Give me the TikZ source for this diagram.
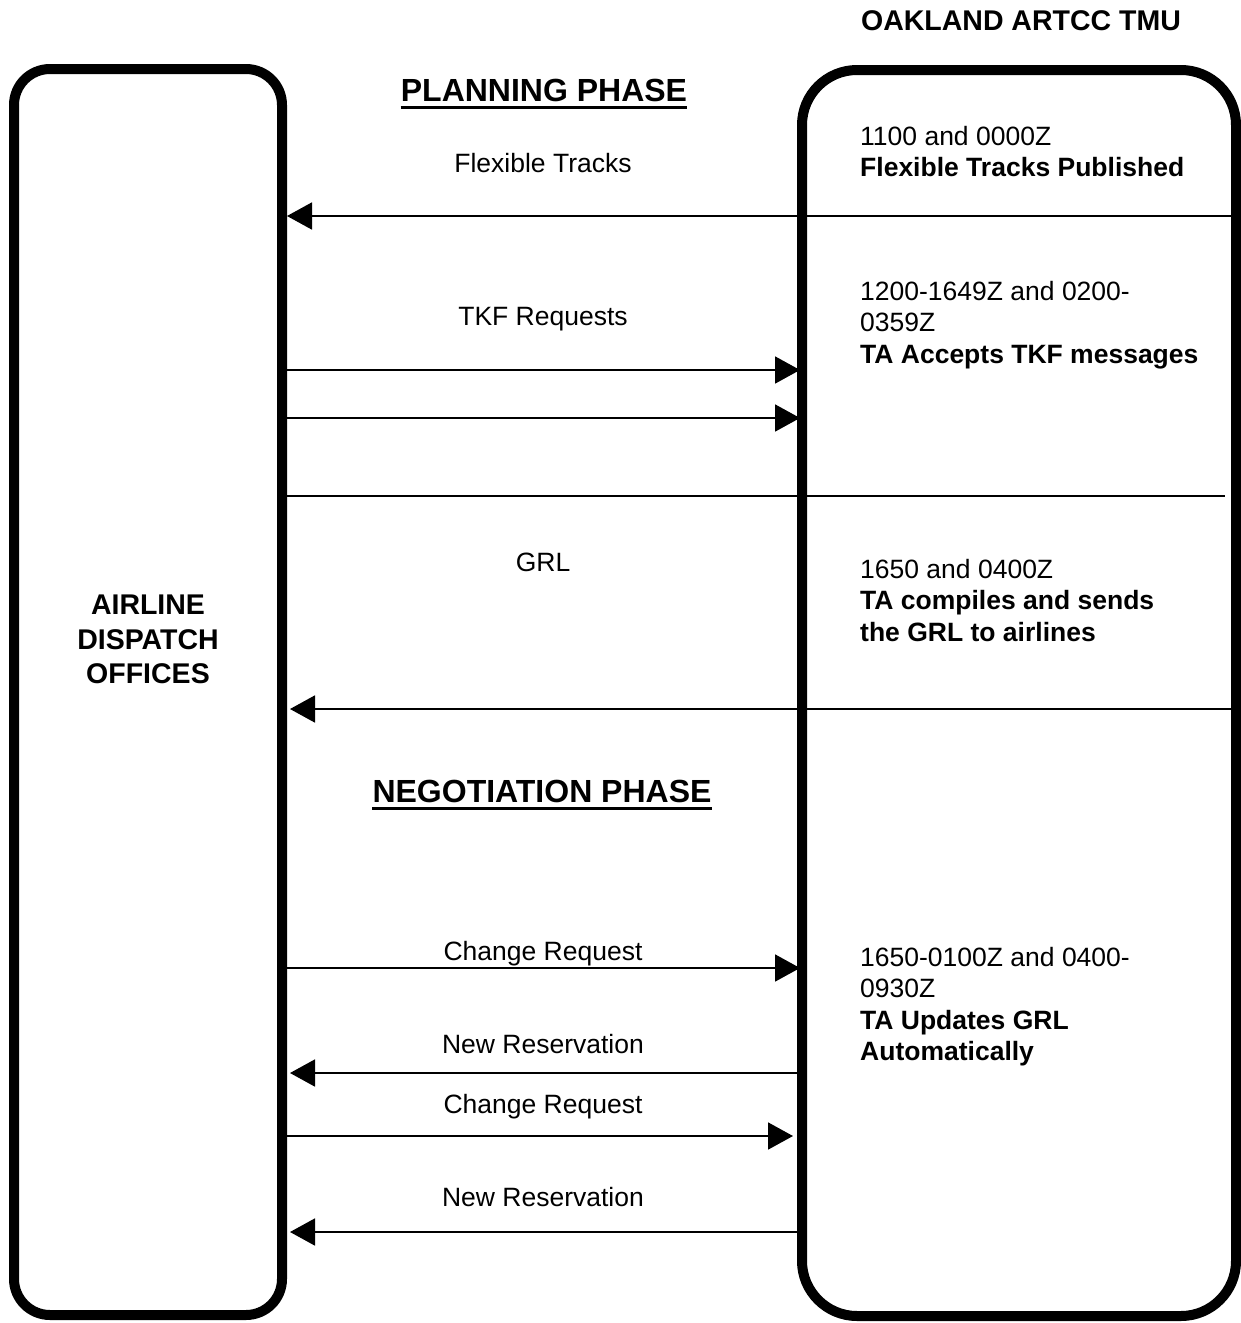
\documentclass[tikz,border=0pt]{standalone}
\usepackage{fontspec}
\setmainfont{Liberation Sans}
\usetikzlibrary{arrows.meta}
\begin{document}
\begin{tikzpicture}[x=1pt,y=-1pt,
  lane/.style={draw, line width=10pt, minimum width=#1, minimum height=1246pt, inner sep=0pt},
  msg/.style={line width=1.8pt, -{Triangle[length=25pt,width=27pt]}},
  plain/.style={line width=1.8pt},
  uline/.style={line width=3pt},
  lbl/.style={font=\fontsize{26.5}{31}\selectfont, inner sep=0pt, anchor=base},
  info/.style={font=\fontsize{26.5}{31.3}\selectfont, inner sep=0pt, anchor=north west, align=left},
  head/.style={font=\fontsize{28.5}{34.5}\selectfont\bfseries, inner sep=0pt, align=center},
  phase/.style={font=\fontsize{32}{38}\selectfont\bfseries, inner sep=0pt, anchor=base}]
\useasboundingbox (0,0) rectangle (1241,1323);
% lanes
\node[lane=268pt, rounded corners=36pt] (left) at (148,692) {};
\node[lane=434pt, rounded corners=55pt] (right) at (1019,693) {};
% headings
\node[head, anchor=base] (tmu) at (1021,30) {OAKLAND ARTCC TMU};
\node[phase] (plan) at (544,101) {PLANNING PHASE};
\draw[uline] ([yshift=-6pt]plan.base west) -- ([yshift=-6pt]plan.base east);
\node[phase] (nego) at (542,802) {NEGOTIATION PHASE};
\draw[uline] ([yshift=-6pt]nego.base west) -- ([yshift=-6pt]nego.base east);
\node[head, anchor=north] (ado) at (148,595) {AIRLINE\\DISPATCH\\OFFICES};
% right info texts
\node[info] (i1) at (860,126) {1100 and 0000Z\\\textbf{Flexible Tracks Published}};
\node[info] (i2) at (860,281) {1200-1649Z and 0200-\\0359Z\\\textbf{TA Accepts TKF messages}};
\node[info] (i3) at (860,559) {1650 and 0400Z\\\textbf{TA compiles and sends}\\\textbf{the GRL to airlines}};
\node[info] (i4) at (860,947) {1650-0100Z and 0400-\\0930Z\\\textbf{TA Updates GRL}\\\textbf{Automatically}};
% message labels
\node[lbl] (l1) at (543,172) {Flexible Tracks};
\node[lbl] (l2) at (543,325) {TKF Requests};
\node[lbl] (l3) at (543,571) {GRL};
\node[lbl] (l4) at (543,960) {Change Request};
\node[lbl] (l5) at (543,1053) {New Reservation};
\node[lbl] (l6) at (543,1113) {Change Request};
\node[lbl] (l7) at (543,1206) {New Reservation};
% free ends
\coordinate (e1) at (1241,216);
\coordinate (e3) at (1225,496);
\coordinate (e4) at (1241,709);
% connectors
\draw[msg] (e1) -- (left.east |- e1);
\draw[msg] (left.east |- 0,370) -- ([xshift=3pt]right.west |- 0,370);
\draw[msg] (left.east |- 0,418) -- ([xshift=3pt]right.west |- 0,418);
\draw[plain] (left.east |- e3) -- (e3);
\draw[msg] (e4) -- ([xshift=3pt]left.east |- e4);
\draw[msg] (left.east |- 0,968) -- ([xshift=3pt]right.west |- 0,968);
\draw[msg] ([xshift=6pt]right.west |- 0,1073) -- ([xshift=3pt]left.east |- 0,1073);
\draw[msg] (left.east |- 0,1136) -- ([xshift=-4pt]right.west |- 0,1136);
\draw[msg] (right.west |- 0,1232) -- ([xshift=3pt]left.east |- 0,1232);
\end{tikzpicture}
\end{document}
